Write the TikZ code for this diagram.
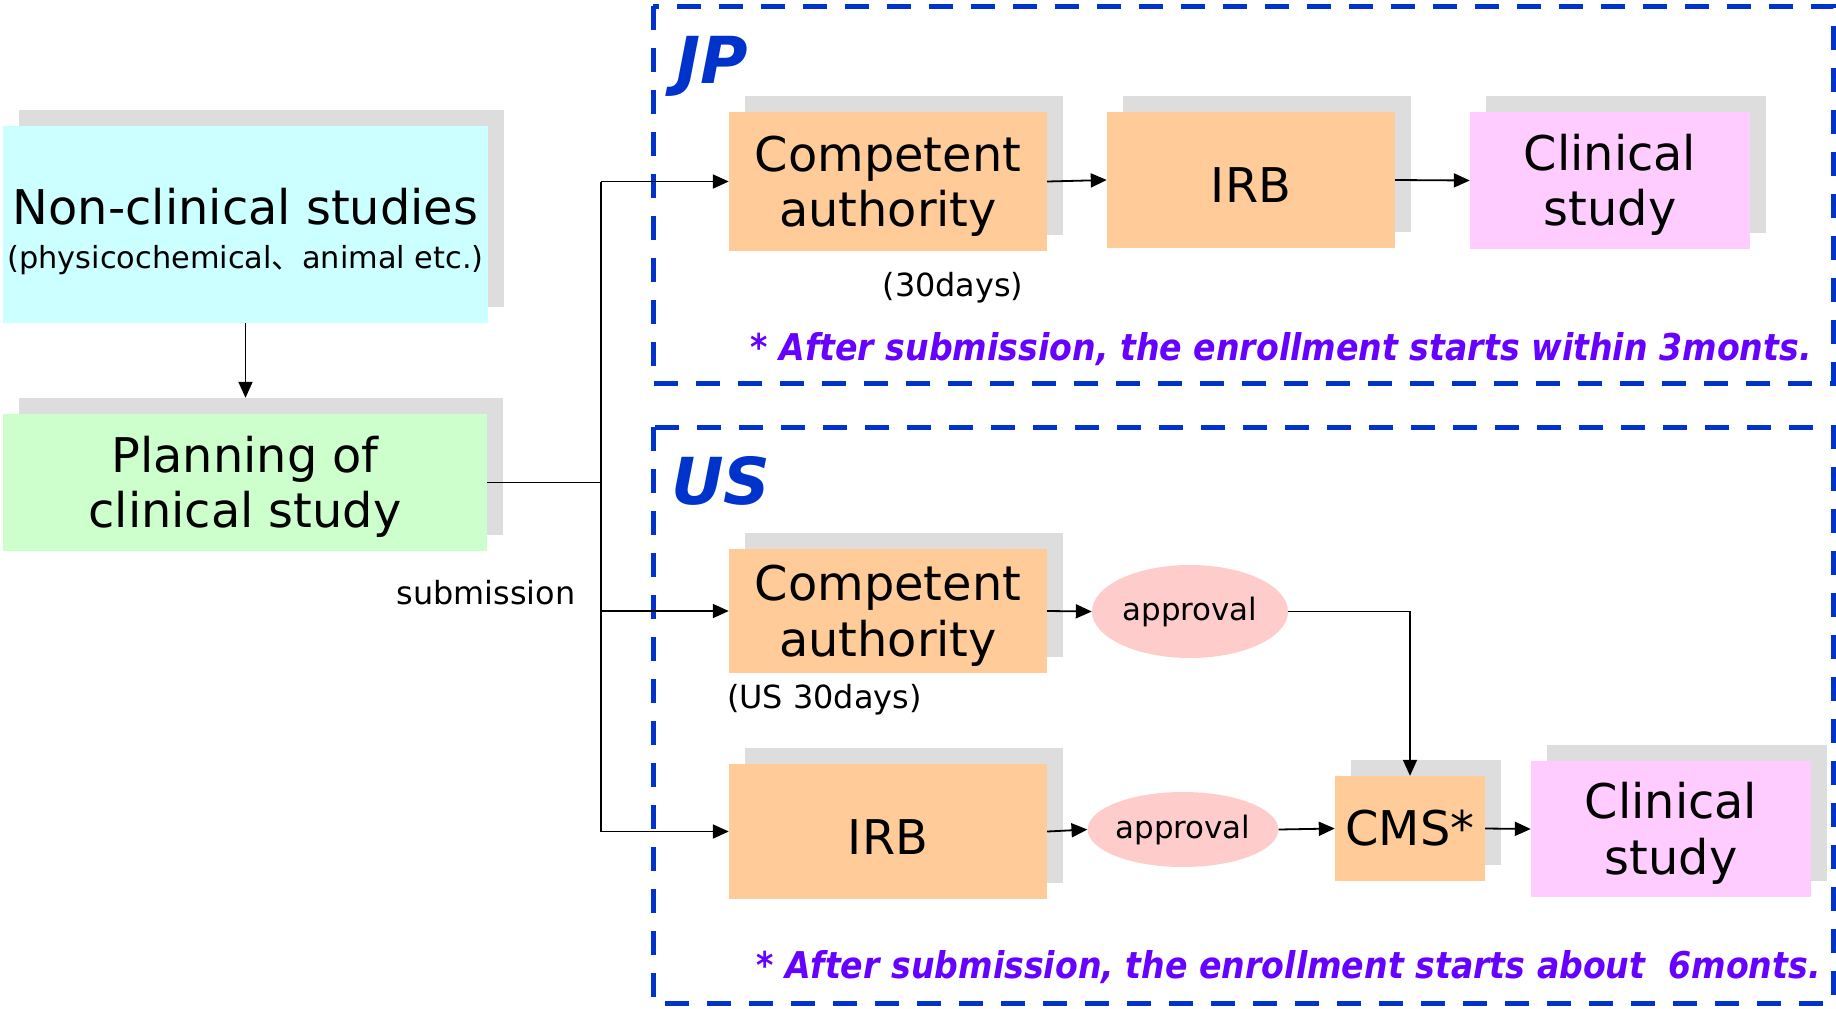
\documentclass[tikz,border=0pt]{standalone}
\usepackage{fontspec}
\setmainfont{DejaVu Sans}
\newfontfamily\cjkfont{Noto Sans CJK JP}
\newfontfamily\notefont[FakeStretch=0.9]{DejaVu Sans}
\usetikzlibrary{arrows.meta,shapes.geometric}

\definecolor{boxcyan}{HTML}{CCFFFF}
\definecolor{boxgreen}{HTML}{CCFFCC}
\definecolor{boxpeach}{HTML}{FFCC99}
\definecolor{boxpink}{HTML}{FFCCFF}
\definecolor{ovalpink}{HTML}{FFCCCC}
\definecolor{shadefill}{HTML}{DDDDDD}
\definecolor{framblue}{HTML}{0033CC}
\definecolor{notepurple}{HTML}{6600FF}

\tikzset{
  frontbox/.style={inner sep=0pt, align=center, font=\fontsize{48}{56}\selectfont},
  shadowbox/.style={inner sep=0pt, fill=shadefill},
  oval/.style={ellipse, inner sep=0pt, fill=ovalpink, font=\fontsize{31}{36}\selectfont},
  smalltext/.style={inner sep=0pt, font=\fontsize{32}{38}\selectfont},
  region/.style={draw=framblue, line width=5bp, dash pattern=on 24bp off 18bp},
  regionlabel/.style={inner sep=0pt, text=framblue, font=\fontsize{65}{72}\selectfont\bfseries\itshape},
  note/.style={inner sep=0pt, text=notepurple, font=\fontsize{37}{44}\notefont\bfseries\itshape},
  link/.style={line width=1.8bp},
  conn/.style={line width=1.8bp, -{Triangle[length=16bp,width=14bp]}},
}

% a strut that lowers box text a little inside its box
\newcommand\lowr{\rule{0pt}{45bp}}

% a box with a grey drop shadow behind it, up and to the right
% [#1] extra options, #2 name, #3 fill, #4 x, #5 y, #6 width, #7 height, #8 text
\newcommand\boxpair[8][]{%
  \node[shadowbox, minimum width=#6bp, minimum height=#7bp, xshift=16bp, yshift=16bp]
    (#2S) at (#4,#5) {};
  \node[frontbox, fill=#3, minimum width=#6bp, minimum height=#7bp, #1] (#2) at (#4,#5) {#8};
}

\begin{document}
\begin{tikzpicture}[x=1bp, y=-1bp]
\useasboundingbox (0,0) rectangle (1836,1008);

% regional frames
\draw[region] (653,6) rectangle (1833,383);
\draw[region] (653,427) rectangle (1833,1003);
\node[regionlabel, anchor=base west] (jp) at (676,83) {JP};
\node[regionlabel, anchor=base west] (us) at (671,504) {US};

% left column
\boxpair[font=\fontsize{48}{44}\selectfont]{nc}{boxcyan}{245.5}{224.5}{485}{197}{%
  \rule{0pt}{50bp}Non-clinical studies\\
  {\fontsize{30.5}{44}\selectfont (physicochemical{\cjkfont 、}animal etc.)}}
\boxpair{plan}{boxgreen}{245}{482.5}{484}{137}{\lowr Planning of\\clinical study}
\node[smalltext] (sub) at (486,593) {submission};

% JP route
\boxpair{jca}{boxpeach}{888}{181.5}{318}{139}{\lowr Competent\\authority}
\boxpair{jirb}{boxpeach}{1251}{180}{288}{136}{\lowr IRB}
\boxpair{jcs}{boxpink}{1610}{180.5}{280}{137}{\lowr Clinical\\study}
\node[smalltext] (d30) at (953,288) {(30days)};
\node[note, anchor=base east] (jpnote) at (1812,360)
  {* After submission, the enrollment starts within 3monts.};

% US route
\boxpair{uca}{boxpeach}{888}{611}{318}{124}{\lowr Competent\\authority}
\boxpair{uirb}{boxpeach}{888}{831.5}{318}{135}{\lowr IRB}
\boxpair{cms}{boxpeach}{1410}{828.5}{150}{105}{CMS*}
\boxpair{ucs}{boxpink}{1671}{829}{280}{136}{\lowr Clinical\\study}
\node[oval, minimum width=196bp, minimum height=93bp] (ap1) at (1190,611.5) {approval};
\node[oval, minimum width=180bp, minimum height=75bp] (ap2) at (1183,829.5) {approval};
\node[smalltext, anchor=west] (us30) at (727,700) {(US 30days)};
\node[note, anchor=base east] (usnote) at (1821,978)
  {* After submission, the enrollment starts about\ \ 6monts.};

% connectors
\coordinate (split) at (601,482.5);
\draw[conn] (nc.south) -- (nc.south |- planS.north);
\draw[link] (plan.east) -- (split);
\draw[link] (split) -- (split |- jca.west);
\draw[link] (split) -- (split |- uirb.west);
\draw[conn] (split |- jca.west) -- (jca.west);
\draw[conn] (split |- uca.west) -- (uca.west);
\draw[conn] (split |- uirb.west) -- (uirb.west);
\draw[conn] (jca.east) -- (jirb.west);
\draw[conn] (jirb.east) -- (jcs.west);
\draw[conn] (uca.east) -- (ap1.west);
\draw[conn] (ap1.east) -| (cms.north);
\draw[conn] (uirb.east) -- (ap2.west);
\draw[conn] (ap2.east) -- (cms.west);
\draw[conn] (cms.east) -- (ucs.west);
\end{tikzpicture}
\end{document}
